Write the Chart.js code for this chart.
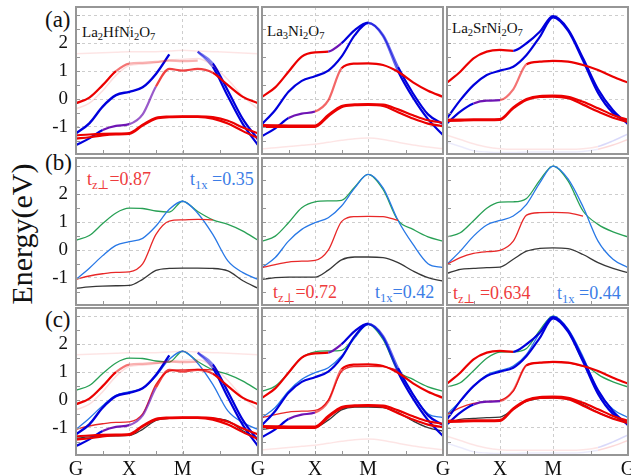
<!DOCTYPE html>
<html>
<head>
<meta charset="utf-8">
<script src="https://cdn.jsdelivr.net/npm/chart.js@4"></script>
<style>
  body { margin: 0; width: 631px; height: 476px; background: #fff; position: relative; overflow: hidden; font-family: "Liberation Serif", "DejaVu Serif", "Noto Serif", "Times New Roman", serif; }
  canvas, .txt { position: absolute; }
  .txt { white-space: nowrap; line-height: 1; color: #111; }
  .txt sub { font-size: 70%; vertical-align: -0.3em; line-height: 0; }
  .tz { color: rgb(238, 60, 60); font-size: 18px; }
  .t1 { color: rgb(60, 125, 230); font-size: 18px; }
  .cmp { font-size: 15px; }
  .pl { font-size: 23px; }
</style>
</head>
<body>
<div class="txt pl" style="left:45px;top:8px">(a)</div>
<div class="txt pl" style="left:45px;top:151px">(b)</div>
<div class="txt pl" style="left:45px;top:308px">(c)</div>
<div class="txt" style="left:22px;top:234px;font-size:30px;transform:translate(-50%,-50%) rotate(-90deg)">Energy(eV)</div>
<div class="txt cmp" style="left:82px;top:25px">La<sub>2</sub>HfNi<sub>2</sub>O<sub>7</sub></div>
<div class="txt cmp" style="left:267px;top:24px">La<sub>3</sub>Ni<sub>2</sub>O<sub>7</sub></div>
<div class="txt cmp" style="left:452px;top:21px">La<sub>2</sub>SrNi<sub>2</sub>O<sub>7</sub></div>
<div class="txt tz" style="left:87px;top:170px">t<sub>z⊥</sub>=0.87</div>
<div class="txt t1" style="left:190px;top:170px">t<sub>1x</sub> =0.35</div>
<div class="txt tz" style="left:273px;top:283px">t<sub>z⊥</sub>=0.72</div>
<div class="txt t1" style="left:375px;top:283px">t<sub>1x</sub>=0.42</div>
<div class="txt tz" style="left:453px;top:284px">t<sub>z⊥</sub> =0.634</div>
<div class="txt t1" style="left:557px;top:284px">t<sub>1x</sub> =0.44</div>

<script>
// k-path G-X-M-G, sample points shared by every band
const kPath = [0, 0.25, 0.5, 0.75, 1, 1.25, 1.5, 1.75, 2, 2.283, 2.566, 2.849, 3.131, 3.414]
const kSymm = [0, 1, 2, 3.414]
const kLabels = ['G', 'X', 'M', 'G']
const kTicks = [0.5, 1, 1.5, 2, 2.707]
const energyTicks = [-1, 0, 1, 2, 3]

// --- DFT unfolded bands (rows a and c) ---
// La2HfNi2O7
const hfRedUpper = [-0.15, 0.05, 0.5, 1.0, 1.27, 1.3, 1.33, 1.38, 1.36, 1.38, null, null, null, null]
const hfBlueUpper = [-1.23, -0.87, -0.27, 0.14, 0.26, 0.42, 0.9, 1.6, null, null, null, null, null, null]
const hfBlueDown1 = [null, null, null, null, null, null, null, null, null, 1.7, 1.15, 0.1, -0.9, -1.65]
const hfBlueDown2 = [null, null, null, null, null, null, null, null, null, 1.7, 1.28, 0.3, -0.72, -1.45]
const hfMixed = [-1.65, -1.41, -1.11, -0.96, -0.9, -0.55, 0.45, 1.08, 1.02, 1.08, 0.94, 0.5, 0.08, -0.15]
const hfRedLower1 = [-1.3, -1.27, -1.25, -1.24, -1.22, -0.92, -0.67, -0.63, -0.62, -0.62, -0.65, -0.78, -1.02, -1.23]
const hfRedLower2 = [-1.42, -1.37, -1.3, -1.27, -1.25, -0.95, -0.7, -0.65, -0.64, -0.64, -0.7, -0.88, -1.15, -1.4]
const hfGhost1 = [1.62, 1.64, 1.66, 1.68, 1.7, 1.7, 1.7, 1.72, 1.75, 1.72, 1.7, 1.68, 1.65, 1.62]
const hfGhost2 = [-0.35, -0.15, 0.3, 0.85, 1.2, 1.25, 1.3, 1.4, 1.42, 1.45, 1.2, 0.7, 0.1, -0.35]

// La3Ni2O7
const la3RedUpper = [0.08, 0.42, 0.98, 1.52, 1.67, 1.7, 2.0, 2.47, 2.74, 2.25, 1.0, 0.05, -0.72, -1.29]
const la3Blue = [-0.9, -0.39, 0.26, 0.65, 0.82, 1.02, 1.52, 2.29, 2.72, 2.3, 1.15, 0.2, -0.55, -0.9]
const la3Mixed = [-1.33, -1.05, -0.68, -0.52, -0.45, -0.05, 1.1, 1.27, 1.28, 1.22, 0.98, 0.6, 0.3, 0.08]
const la3RedLower1 = [-0.93, -0.94, -0.95, -0.95, -0.95, -0.57, -0.25, -0.19, -0.18, -0.2, -0.37, -0.58, -0.76, -0.85]
const la3RedLower2 = [-0.99, -1.0, -1.0, -1.0, -1.0, -0.62, -0.29, -0.22, -0.21, -0.25, -0.47, -0.7, -0.88, -0.97]
const la3Ghost = [-1.78, -1.75, -1.7, -1.66, -1.62, -1.55, -1.48, -1.42, -1.4, -1.45, -1.55, -1.65, -1.72, -1.78]

// La2SrNi2O7
const srRedUpper = [0.59, 0.98, 1.46, 1.7, 1.76, 1.73, 2.0, 2.41, 2.97, 2.5, 1.46, 0.35, -0.4, -0.9]
const srBlue = [-0.69, -0.04, 0.5, 0.86, 1.02, 1.16, 1.58, 2.23, 2.93, 2.45, 1.38, 0.22, -0.5, -0.85]
const srMixed = [-0.87, -0.45, -0.16, -0.06, -0.04, 0.35, 1.25, 1.34, 1.37, 1.34, 1.22, 1.04, 0.8, 0.59]
const srRedLower1 = [-0.75, -0.74, -0.73, -0.73, -0.72, -0.3, 0.0, 0.11, 0.12, 0.08, -0.1, -0.33, -0.57, -0.75]
const srRedLower2 = [-0.78, -0.77, -0.76, -0.76, -0.75, -0.33, -0.03, 0.08, 0.09, 0.03, -0.2, -0.45, -0.67, -0.82]
const srGhost1 = [-1.3, -1.45, -1.6, -1.72, -1.78, -1.8, -1.8, -1.8, -1.8, -1.8, -1.78, -1.7, -1.5, -1.25]
const srGhost2 = [-1.55, -1.7, -1.85, -1.9, -1.92, -1.92, -1.9, -1.9, -1.9, -1.9, -1.88, -1.8, -1.65, -1.45]

// --- four-band tight-binding fits (rows b and c) ---
const hfTbGreen = [0.35, 0.52, 0.95, 1.33, 1.5, 1.49, 1.4, 1.36, 1.75, 1.38, 1.08, 0.92, 0.68, 0.35]
const hfTbBlue = [-1.05, -0.65, -0.2, 0.17, 0.3, 0.42, 0.86, 1.46, 1.75, 1.32, 0.56, -0.39, -0.81, -1.05]
const hfTbRed = [-1.05, -0.93, -0.85, -0.8, -0.78, -0.5, 0.56, 1.04, 1.08, 1.1, 1.08, null, null, null]
const hfTbBlack = [-1.37, -1.32, -1.29, -1.28, -1.27, -1.05, -0.73, -0.66, -0.65, -0.65, -0.66, -0.75, -1.1, -1.37]

const la3TbGreen = [0.32, 0.5, 0.98, 1.52, 1.73, 1.76, 1.78, 2.26, 2.71, 2.17, 1.06, 0.74, 0.47, 0.32]
const la3TbBlue = [-0.63, -0.27, 0.32, 0.74, 0.98, 1.16, 1.58, 2.23, 2.71, 2.23, 1.06, 0.2, -0.49, -0.63]
const la3TbRed = [-0.63, -0.52, -0.43, -0.4, -0.37, 0.0, 1.02, 1.2, 1.21, 1.2, 1.06, null, null, null]
const la3TbBlack = [-1.05, -0.99, -0.97, -0.97, -0.97, -0.72, -0.35, -0.25, -0.25, -0.27, -0.45, -0.75, -0.99, -1.11]

const srTbGreen = [0.47, 0.62, 1.05, 1.5, 1.72, 1.73, 1.85, 2.5, 3.01, 2.48, 1.4, 0.92, 0.65, 0.47]
const srTbBlue = [-0.51, -0.04, 0.5, 0.9, 1.06, 1.22, 1.64, 2.41, 3.01, 2.55, 1.55, 0.32, -0.33, -0.63]
const srTbRed = [-0.51, -0.27, -0.12, -0.06, -0.01, 0.32, 1.25, 1.34, 1.35, 1.33, 1.22, null, null, null]
const srTbBlack = [-0.84, -0.69, -0.66, -0.63, -0.61, -0.33, -0.04, 0.06, 0.08, 0.05, -0.16, -0.45, -0.66, -0.81]

const RED = 'rgb(235,0,0)'
const BLUE = 'rgb(0,0,220)'
const PURPLE = 'rgb(110,20,180)'
const TB_GREEN = 'rgb(40,160,85)'
const TB_BLUE = 'rgb(40,120,230)'
const TB_RED = 'rgb(232,40,40)'
const TB_BLACK = 'rgb(55,55,55)'
const FRAME = 'rgb(150,150,150)'
const GRID = 'rgb(205,205,205)'
const SERIF = '"Liberation Serif", "DejaVu Serif", "Noto Serif", "Times New Roman", serif'

const fade = (c, a) => c.replace('rgb', 'rgba').replace(')', `,${a})`)

const dftBands = [
  [
    {y: hfGhost1, stops: [[0, fade(RED, 0.1)]], w: 1.5},
    {y: hfGhost2, stops: [[0, fade(RED, 0.13)]], w: 1.5},
    {y: hfRedLower2, stops: [[0, RED]], w: 2.2},
    {y: hfRedLower1, stops: [[0, RED]], w: 2.2},
    {y: hfRedUpper, stops: [[0, RED], [0.7, fade(RED, 0.55)], [0.9, fade(RED, 0.3)]], w: 2.2},
    {y: hfMixed, stops: [[0, BLUE], [0.6, PURPLE], [1.1, fade(PURPLE, 0.7)], [1.6, fade(RED, 0.75)], [2.45, RED]], w: 2.2},
    {y: hfBlueUpper, stops: [[0, BLUE]], w: 2.4},
    {y: hfBlueDown2, stops: [[0, fade(BLUE, 0.5)], [2.5, BLUE]], w: 2.2},
    {y: hfBlueDown1, stops: [[0, fade(BLUE, 0.5)], [2.5, BLUE]], w: 2.2},
  ],
  [
    {y: la3Ghost, stops: [[0, fade(RED, 0.1)]], w: 1.5},
    {y: la3RedLower2, stops: [[0, RED]], w: 2.2},
    {y: la3RedLower1, stops: [[0, RED]], w: 2.2},
    {y: la3Mixed, stops: [[0, BLUE], [0.6, PURPLE], [1.1, fade(RED, 0.6)], [1.6, RED]], w: 2.2},
    {y: la3Blue, stops: [[0, BLUE], [2.1, fade(BLUE, 0.6)], [2.7, BLUE]], w: 2.2},
    {y: la3RedUpper, stops: [[0, RED], [1.35, PURPLE], [1.5, BLUE], [2.1, fade(BLUE, 0.6)], [2.7, BLUE]], w: 2.2},
  ],
  [
    {y: srGhost1, stops: [[0, fade(RED, 0.1)], [2.8, fade(BLUE, 0.15)]], w: 1.5},
    {y: srGhost2, stops: [[0, fade(BLUE, 0.08)], [2.8, fade(RED, 0.15)]], w: 1.5},
    {y: srRedLower2, stops: [[0, RED]], w: 2.2},
    {y: srRedLower1, stops: [[0, RED]], w: 2.2},
    {y: srMixed, stops: [[0, BLUE], [0.4, PURPLE], [1.1, fade(RED, 0.55)], [1.6, RED]], w: 2.2},
    {y: srBlue, stops: [[0, BLUE]], w: 2.2},
    {y: srRedUpper, stops: [[0, RED], [1.2, PURPLE], [1.35, BLUE]], w: 2.2},
  ],
]

const tbBands = [
  [hfTbBlack, hfTbRed, hfTbBlue, hfTbGreen],
  [la3TbBlack, la3TbRed, la3TbBlue, la3TbGreen],
  [srTbBlack, srTbRed, srTbBlue, srTbGreen],
].map(([black, red, blue, green]) => [
  {y: black, color: TB_BLACK, w: 1.3},
  {y: red, color: TB_RED, w: 1.3},
  {y: blue, color: TB_BLUE, w: 1.3},
  {y: green, color: TB_GREEN, w: 1.3},
])

// panel boxes
const colLeft = [76, 262, 447]
const colWidth = [182, 181, 181]
const rowTop = [7, 158, 308]
const rowHeight = 147

function colorAt(stops, k) {
  let c = stops[0][1]
  for (const [k0, col] of stops) if (k >= k0) c = col
  return c
}

function bandDataset(band) {
  const ds = {
    data: kPath.map((k, i) => ({x: k, y: band.y[i]})),
    borderWidth: band.w,
    borderColor: band.color || band.stops[0][1],
    pointRadius: 0,
    cubicInterpolationMode: 'monotone',
    fill: false,
  }
  if (band.stops) {
    ds.segment = {borderColor: ctx => colorAt(band.stops, (ctx.p0.parsed.x + ctx.p1.parsed.x) / 2)}
  }
  return ds
}

// box frame with inward ticks
const framePlugin = {
  id: 'frame',
  afterDraw(chart) {
    const {ctx, chartArea: a, scales: {x, y}} = chart
    ctx.save()
    ctx.strokeStyle = FRAME
    ctx.lineWidth = 1
    ctx.beginPath()
    for (let v = -1.5; v <= 3; v += 0.5) {
      const py = Math.round(y.getPixelForValue(v)) + 0.5
      ctx.moveTo(a.left, py)
      ctx.lineTo(a.left + 4, py)
    }
    for (const v of kTicks) {
      const px = Math.round(x.getPixelForValue(v)) + 0.5
      ctx.moveTo(px, a.bottom)
      ctx.lineTo(px, a.bottom - 4)
    }
    ctx.stroke()
    ctx.lineWidth = 2
    ctx.strokeRect(a.left, a.top, a.right - a.left, a.bottom - a.top)
    ctx.restore()
  }
}

Chart.defaults.font.family = SERIF
Chart.defaults.color = '#111'

for (let r = 0; r < 3; r++) {
  for (let c = 0; c < 3; c++) {
    const padL = c === 0 ? 76 : 2
    const padB = r === 2 ? 24 : 2
    const padR = r === 2 ? 14 : 2   // room for the last k-point label
    const canvas = document.createElement('canvas')
    canvas.width = colWidth[c] + padL + padR
    canvas.height = rowHeight + padB + 2
    canvas.style.left = (colLeft[c] - padL) + 'px'
    canvas.style.top = (rowTop[r] - 2) + 'px'
    document.body.appendChild(canvas)

    let bands = []
    if (r !== 1) bands = bands.concat(dftBands[c])
    if (r !== 0) bands = bands.concat(tbBands[c])

    new Chart(canvas, {
      type: 'line',
      data: {datasets: bands.map(bandDataset)},
      options: {
        responsive: false,
        animation: false,
        devicePixelRatio: 1,
        events: [],
        layout: {padding: {left: 0, top: 2, right: padR, bottom: 0}, autoPadding: false},
        plugins: {legend: {display: false}, tooltip: {enabled: false}},
        scales: {
          x: {
            type: 'linear',
            min: 0,
            max: 3.414,
            afterBuildTicks: s => { s.ticks = kSymm.map(v => ({value: v})) },
            afterFit: s => { s.height = padB; s.paddingLeft = 0; s.paddingRight = 0 },
            grid: {
              color: ctx => (ctx.tick && (ctx.tick.value === 1 || ctx.tick.value === 2)) ? GRID : 'rgba(0,0,0,0)',
              lineWidth: 1,
              drawTicks: false,
            },
            border: {display: false, dash: [3, 3]},
            ticks: {
              display: r === 2,
              autoSkip: false,
              maxRotation: 0,
              padding: 3,
              font: {size: 20},
              callback: (v, i) => (c > 0 && i === 0) ? '' : kLabels[i],
            },
          },
          y: {
            type: 'linear',
            min: -1.97,
            max: 3.3,
            afterBuildTicks: s => { s.ticks = energyTicks.map(v => ({value: v})) },
            afterFit: s => { s.width = padL; s.paddingTop = 0; s.paddingBottom = 0 },
            grid: {color: GRID, lineWidth: 1, drawTicks: false},
            border: {display: false, dash: [3, 3]},
            ticks: {
              display: c === 0,
              padding: 8,
              font: {size: 19},
              callback: v => v <= 2 ? String(v) : '',
            },
          },
        },
      },
      plugins: [framePlugin],
    })
  }
}
</script>
</body>
</html>
